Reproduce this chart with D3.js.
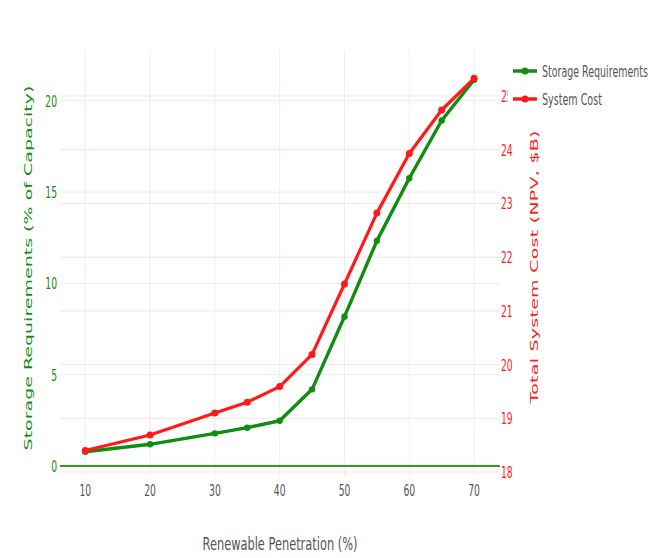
<!DOCTYPE html>
<html><head><meta charset="utf-8">
<script src="https://cdn.jsdelivr.net/npm/d3@7"></script>
<style>body{margin:0;background:#fff}</style>
</head><body><svg id="c" width="668" height="558"></svg>
<script>
const penetration = [10, 20, 30, 35, 40, 45, 50, 55, 60, 65, 70];
const storage = [0.78, 1.19, 1.79, 2.1, 2.48, 4.2, 8.18, 12.33, 15.76, 18.92, 21.15];
const cost = [18.40, 18.69, 19.10, 19.30, 19.59, 20.19, 21.50, 22.82, 23.93, 24.74, 25.33];
const xTicks = [10, 20, 30, 40, 50, 60, 70];
const leftTicks = [0, 5, 10, 15, 20];
const rightTicks = [18, 19, 20, 21, 22, 23, 24, 25];
const seriesNames = ["Storage Requirements", "System Cost"];

const svg = d3.select("#c");
const L = 60, R = 500, T = 50, B = 477;
const x = d3.scaleLinear().domain([6.1, 74]).range([L, R]);
const yL = d3.scaleLinear().domain([-0.6, 22.78]).range([B, T]);
const yR = d3.scaleLinear().domain([17.907, 25.857]).range([B, T]);
const GREEN = "#118c11", RED = "#ff1a1a";
const condensed = "'DejaVu Sans Condensed','DejaVu Sans',sans-serif";
const SX = 0.62;

function fitText(parent, str, x0, y0, size, fill, anchor, width) {
  const t = parent.append("text").attr("font-family", condensed).attr("font-size", size)
    .attr("fill", fill).attr("text-anchor", anchor).text(str);
  const len = t.node().getComputedTextLength();
  t.attr("transform", `translate(${x0},${y0}) scale(${width / len},1)`);
  return t;
}
function vTitle(str, x0, yc, size, fill, length, sq) {
  const t = svg.append("text").attr("font-family", "'DejaVu Sans',sans-serif").attr("font-size", size)
    .attr("fill", fill).attr("text-anchor", "middle").text(str);
  const len = t.node().getComputedTextLength();
  const extra = (length - len) / (str.length - 1);
  t.attr("letter-spacing", extra)
   .attr("transform", `translate(${x0},${yc}) rotate(-90) scale(1,${sq}) translate(${extra / 2},0)`);
}

svg.append("g").selectAll("line").data(xTicks).join("line")
  .attr("x1", d => x(d)).attr("x2", d => x(d)).attr("y1", T).attr("y2", B)
  .attr("stroke", "#eeeeee").attr("stroke-width", 1);
svg.append("g").selectAll("line").data(rightTicks).join("line")
  .attr("x1", L).attr("x2", R).attr("y1", d => yR(d)).attr("y2", d => yR(d))
  .attr("stroke", "#ffe0e0").attr("stroke-width", 1);
svg.append("g").selectAll("line").data(leftTicks.filter(d => d !== 0)).join("line")
  .attr("x1", L).attr("x2", R).attr("y1", d => yL(d)).attr("y2", d => yL(d))
  .attr("stroke", "#e3f0e3").attr("stroke-width", 1);
svg.append("line").attr("x1", L).attr("x2", R).attr("y1", yL(0)).attr("y2", yL(0))
  .attr("stroke", "#2e9a2e").attr("stroke-width", 2);

svg.append("g").selectAll("text").data(xTicks).join("text")
  .attr("transform", d => `translate(${x(d)},496) scale(${SX},1)`).attr("text-anchor", "middle")
  .attr("font-family", condensed).attr("font-size", 16.5).attr("fill", "#555")
  .text(d => d);
svg.append("g").selectAll("text").data(leftTicks).join("text")
  .attr("transform", d => `translate(57,${yL(d) + 6}) scale(${SX},1)`).attr("text-anchor", "end")
  .attr("font-family", condensed).attr("font-size", 16.5).attr("fill", GREEN)
  .text(d => d);
svg.append("g").selectAll("text").data(rightTicks).join("text")
  .attr("transform", d => `translate(501,${yR(d) + 6}) scale(${SX},1)`).attr("text-anchor", "start")
  .attr("font-family", condensed).attr("font-size", 16.5).attr("fill", RED)
  .text(d => d);

fitText(svg, "Renewable Penetration (%)", 280, 550, 17, "#555", "middle", 155);
vTitle("Storage Requirements (% of Capacity)", 32, 268, 19, GREEN, 365, 0.55);
vTitle("Total System Cost (NPV, $B)", 538, 267, 19, RED, 273, 0.55);

const lineL = d3.line().x((d, i) => x(penetration[i])).y(d => yL(d));
const lineR = d3.line().x((d, i) => x(penetration[i])).y(d => yR(d));
const g = svg.append("g");
g.append("path").datum(storage).attr("d", lineL).attr("fill", "none")
  .attr("stroke", GREEN).attr("stroke-width", 3.4).attr("stroke-linejoin", "round");
g.selectAll(".ms").data(storage).join("circle").attr("class", "ms")
  .attr("cx", (d, i) => x(penetration[i])).attr("cy", d => yL(d)).attr("r", 3.2).attr("fill", GREEN);
g.append("path").datum(cost).attr("d", lineR).attr("fill", "none")
  .attr("stroke", RED).attr("stroke-width", 3.2).attr("stroke-linejoin", "round");
g.selectAll(".mc").data(cost).join("circle").attr("class", "mc")
  .attr("cx", (d, i) => x(penetration[i])).attr("cy", d => yR(d)).attr("r", 3.5).attr("fill", RED);

const lg = svg.append("g");
lg.append("rect").attr("x", 508).attr("y", 58).attr("width", 150).attr("height", 52).attr("fill", "#fff");
const legendW = [106, 60];
[GREEN, RED].forEach((c, i) => {
  const yy = 71 + i * 28;
  lg.append("line").attr("x1", 513).attr("x2", 537).attr("y1", yy).attr("y2", yy)
    .attr("stroke", c).attr("stroke-width", 3.5);
  lg.append("circle").attr("cx", 525).attr("cy", yy).attr("r", 3.5).attr("fill", c);
  fitText(lg, seriesNames[i], 542, yy + 5.5, 15.5, "#555", "start", legendW[i]);
});
</script></body></html>
